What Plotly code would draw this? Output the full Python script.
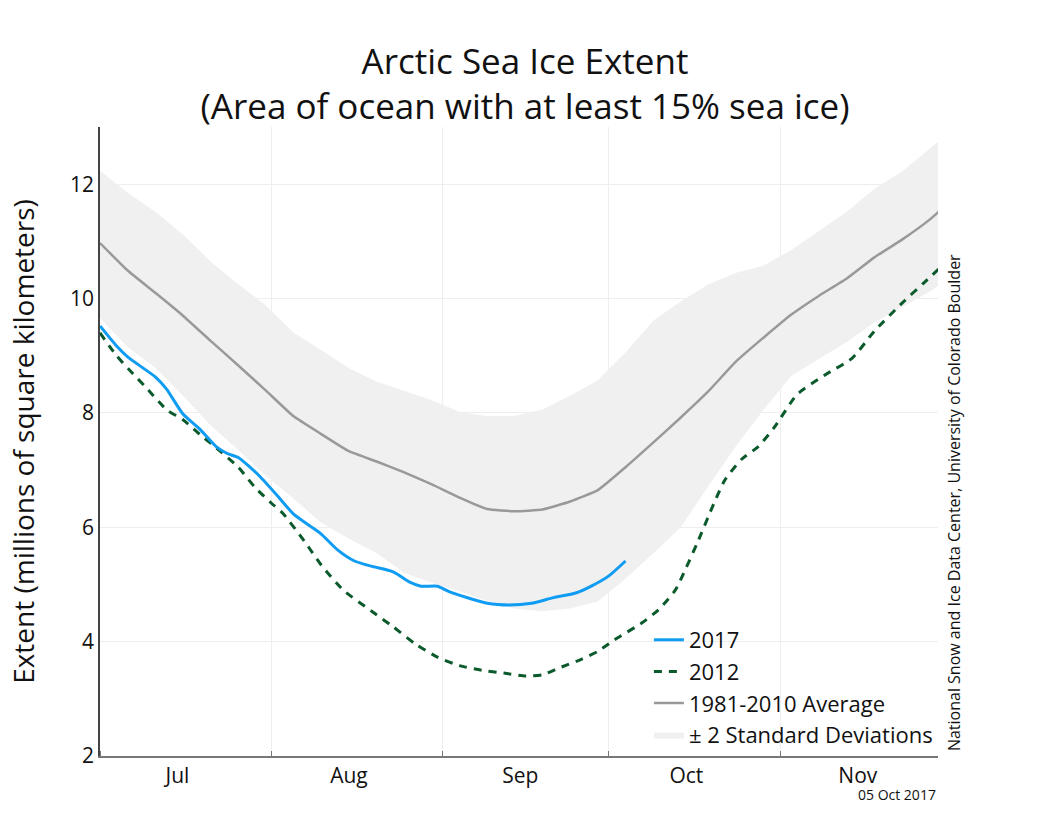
import datetime as dt
import plotly.graph_objects as go

START = dt.date(2017, 7, 1)

# ---- data (day offsets counted from 1 Jul 2017, extent in millions of km^2) ----
clim_days = [0, 5, 10, 15, 20, 25, 30, 35, 40, 45, 50, 55, 60, 65, 70, 75, 80, 85,
             90, 95, 100, 105, 110, 115, 120, 125, 130, 135, 140, 145, 150, 152]
avg_vals = [10.97, 10.49, 10.10, 9.70, 9.26, 8.83, 8.39, 7.94, 7.63, 7.33, 7.15, 6.96,
            6.75, 6.52, 6.32, 6.28, 6.31, 6.45, 6.65, 7.05, 7.48, 7.92, 8.38, 8.90,
            9.32, 9.72, 10.05, 10.35, 10.72, 11.03, 11.38, 11.55]
sd_upper = [12.24, 11.85, 11.52, 11.12, 10.65, 10.25, 9.88, 9.40, 9.10, 8.78, 8.55, 8.38,
            8.22, 8.02, 7.94, 7.95, 8.06, 8.30, 8.57, 9.05, 9.61, 9.95, 10.25, 10.45,
            10.58, 10.85, 11.18, 11.52, 11.92, 12.22, 12.62, 12.78]
sd_lower = [9.66, 9.15, 8.79, 8.30, 7.78, 7.35, 6.90, 6.50, 6.08, 5.80, 5.55, 5.20,
            5.03, 4.88, 4.71, 4.58, 4.53, 4.58, 4.70, 5.10, 5.54, 6.00, 6.72, 7.42,
            8.06, 8.65, 8.95, 9.24, 9.58, 9.85, 10.12, 10.25]

days_2017 = [0, 3, 5, 8, 10, 12, 15, 18, 21, 23, 25, 27, 29, 32, 35, 38, 40, 43, 46,
             49, 53, 56, 58, 61, 63, 66, 70, 74, 78, 82, 86, 89, 92, 95]
vals_2017 = [9.52, 9.17, 8.98, 8.77, 8.63, 8.42, 7.98, 7.72, 7.41, 7.29, 7.22, 7.06,
             6.88, 6.56, 6.23, 6.02, 5.88, 5.60, 5.41, 5.32, 5.22, 5.04, 4.97, 4.97,
             4.88, 4.78, 4.67, 4.64, 4.67, 4.77, 4.85, 4.98, 5.15, 5.41]

days_2012 = [0, 3, 6, 8, 12, 15, 18, 21, 25, 28, 31, 33, 37, 40, 44, 49, 53, 57, 61,
             65, 69, 73, 77, 80, 83, 87, 90, 93, 98, 101, 104, 106, 108, 111, 113, 116,
             119, 122, 126, 131, 136, 140, 145, 149, 152]
vals_2012 = [9.40, 9.00, 8.68, 8.48, 8.06, 7.88, 7.63, 7.39, 7.05, 6.70, 6.42, 6.25,
             5.75, 5.34, 4.90, 4.54, 4.26, 3.96, 3.73, 3.58, 3.50, 3.45, 3.40, 3.42,
             3.54, 3.69, 3.83, 4.03, 4.33, 4.56, 4.90, 5.30, 5.73, 6.42, 6.83, 7.19,
             7.41, 7.76, 8.32, 8.66, 8.96, 9.43, 9.92, 10.28, 10.55]

month_labels = ["Jul", "Aug", "Sep", "Oct", "Nov"]
label_dates = ["2017-07-15", "2017-08-15", "2017-09-15", "2017-10-15", "2017-11-15"]
month_starts = ["2017-07-01", "2017-08-01", "2017-09-01", "2017-10-01", "2017-11-01"]
y_ticks = [2, 4, 6, 8, 10, 12]


def to_dates(days):
    return [START + dt.timedelta(days=d) for d in days]


clim_dates = to_dates(clim_days)

FONT = "Open Sans"
TXT = "#111111"

fig = go.Figure()

fig.add_trace(go.Scatter(
    x=clim_dates + clim_dates[::-1],
    y=sd_upper + sd_lower[::-1],
    fill="toself", fillcolor="#f0f0f0",
    line=dict(width=0, color="#f0f0f0"),
    mode="lines", name="± 2 Standard Deviations",
    hoverinfo="skip", legendrank=4,
))
fig.add_trace(go.Scatter(
    x=clim_dates, y=avg_vals, mode="lines",
    line=dict(color="#999999", width=2.5, shape="spline", smoothing=0.4),
    name="1981-2010 Average", legendrank=3,
))
fig.add_trace(go.Scatter(
    x=to_dates(days_2012), y=vals_2012, mode="lines",
    line=dict(color="#0b5a2c", width=3, dash="8px,7px", shape="spline", smoothing=0.6),
    name="2012", legendrank=2,
))
fig.add_trace(go.Scatter(
    x=to_dates(days_2017), y=vals_2017, mode="lines",
    line=dict(color="#0f9cf2", width=3, shape="spline", smoothing=0.6),
    name="2017", legendrank=1,
))

fig.update_layout(
    width=1050, height=840,
    margin=dict(l=100, r=112, t=127, b=84),
    paper_bgcolor="white", plot_bgcolor="white",
    font=dict(family=FONT, color=TXT),
    title=dict(
        text="Arctic Sea Ice Extent<br>(Area of ocean with at least 15% sea ice)",
        x=0.5, xref="container", xanchor="center",
        y=1 - 73.5 / 840, yref="container", yanchor="middle",
        font=dict(size=35, family=FONT, color=TXT),
    ),
    showlegend=True,
    legend=dict(
        x=0.655, y=0.0, xanchor="left", yanchor="bottom",
        bgcolor="rgba(0,0,0,0)", font=dict(size=22, family=FONT, color=TXT),
        tracegroupgap=0,
    ),
    xaxis=dict(
        type="date",
        range=["2017-07-01", "2017-11-29 12:00"],
        tickmode="array", tickvals=label_dates, ticktext=month_labels,
        ticks="", showgrid=False,
        minor=dict(tickmode="array", tickvals=month_starts, showgrid=True,
                   gridcolor="#eeeeee", gridwidth=1, ticks="inside", ticklen=5,
                   tickcolor="#777777", tickwidth=1),
        showline=True, linecolor="#777777", linewidth=2,
        tickfont=dict(size=21, family=FONT, color=TXT),
        zeroline=False,
    ),
    yaxis=dict(
        range=[2, 13], tickvals=y_ticks,
        showgrid=True, gridcolor="#eeeeee", gridwidth=1,
        showline=True, linecolor="#444444", linewidth=1.5,
        ticks="", tickfont=dict(size=21, family=FONT, color=TXT),
        title=dict(text="Extent (millions of square kilometers)",
                   font=dict(size=28, family=FONT, color=TXT), standoff=27),
        zeroline=False,
    ),
    annotations=[
        dict(text="National Snow and Ice Data Center, University of Colorado Boulder",
             textangle=-90, x=1.02, y=0.005, xref="paper", yref="paper",
             xanchor="center", yanchor="bottom", showarrow=False,
             font=dict(size=16, family=FONT, color=TXT)),
        dict(text="05 Oct 2017", x=1.0, y=-0.062, xref="paper", yref="paper",
             xanchor="right", yanchor="middle", showarrow=False,
             font=dict(size=14, family=FONT, color=TXT)),
    ],
)

fig.write_html("out.html")
